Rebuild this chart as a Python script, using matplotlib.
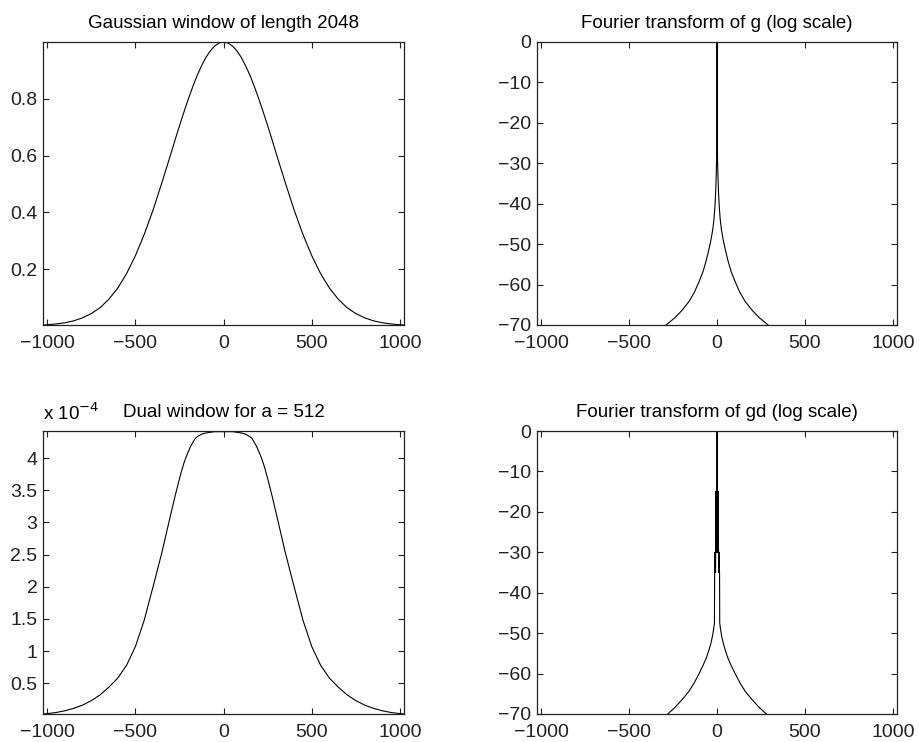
import numpy as np
import matplotlib
matplotlib.use("Agg")
import matplotlib.pyplot as plt

# values (right half; the curves are symmetric about 0)
g_x = [0, 25, 50, 75, 100, 125, 150, 175, 200, 225, 250, 275, 300, 350, 400,
       450, 500, 550, 600, 650, 700, 750, 800, 850, 900, 950, 1000, 1024]
g_val = [1.0, 0.9965, 0.986, 0.969, 0.946, 0.916, 0.882, 0.842, 0.799, 0.753,
         0.705, 0.655, 0.604, 0.504, 0.408, 0.322, 0.247, 0.184, 0.133,
         0.094, 0.064, 0.043, 0.028, 0.0175, 0.0107, 0.0064, 0.0037, 0.0028]

gd_x = [0, 50, 100, 125, 150, 162, 175, 187, 200, 212, 225, 237, 250, 275,
        300, 350, 400, 450, 500, 550, 600, 650, 700, 750, 800, 850, 900, 950,
        1000, 1024]
gd_val = [4.41, 4.41, 4.39, 4.37, 4.33, 4.30, 4.24, 4.18, 4.10, 4.02, 3.92,
          3.81, 3.68, 3.41, 3.12, 2.53, 2.00, 1.48, 1.07, 0.78, 0.58, 0.44,
          0.32, 0.23, 0.16, 0.11, 0.072, 0.045, 0.028, 0.022]  # x 1e-4

fg_k = [0, 1, 2, 3, 5, 8, 12, 18, 25, 35, 45, 60, 80, 100, 130, 160, 200,
        240, 290]
fg_db = [0, -22, -27, -30, -33, -37, -40.5, -44, -46.5, -49, -51, -53.8,
         -56.8, -59, -62, -64.2, -66.4, -68.2, -70]

# the dual window spectrum oscillates near the centre (dark band)
fgd_k = [0, 1, 2, 3, 4, 5, 6, 7, 8, 9, 10, 11, 12, 13, 14, 15,
         18, 25, 35, 45, 60, 80, 100, 130, 160, 200, 240, 280]
fgd_db = [0, -15, -30, -15, -30, -15, -30, -15, -30,
          -35, -30, -35, -30, -35, -35, -47.5,
          -48.5, -50.5, -52.5, -54, -56, -58, -59.8, -62.3, -64.4, -66.5,
          -68.4, -70]

xticks = [-1000, -500, 0, 500, 1000]
gd_ticks = [0.5, 1, 1.5, 2, 2.5, 3, 3.5, 4]


def mirror(x, y):
    x = np.asarray(x, float)
    y = np.asarray(y, float)
    return (np.concatenate([-x[:0:-1], x]), np.concatenate([y[:0:-1], y]))


plt.rcParams['font.family'] = ['Liberation Sans', 'DejaVu Sans']

fig = plt.figure(figsize=(9.19, 7.42), dpi=100)
W, H = 919, 742


def make_ax(l, t, r, b):
    return fig.add_axes([l / W, 1 - b / H, (r - l) / W, (b - t) / H])


ax1 = make_ax(43, 42, 404, 325)
ax2 = make_ax(537, 42, 897, 325)
ax3 = make_ax(43, 431, 404, 714)
ax4 = make_ax(537, 431, 897, 714)

TFS = 13.5

x, y = mirror(g_x, g_val)
ax1.plot(x, y, color='black', lw=0.8)
ax1.set_ylim(min(g_val), 1.0)
ax1.set_yticks([0.2, 0.4, 0.6, 0.8])
ax1.set_title('Gaussian window of length 2048', fontsize=TFS, pad=10)

x, y = mirror(fg_k, fg_db)
ax2.plot(x, y, color='black', lw=0.8)
ax2.set_ylim(-70, 0)
ax2.set_yticks(range(-70, 1, 10))
ax2.set_title('Fourier transform of g (log scale)', fontsize=TFS, pad=10)

x, y = mirror(gd_x, gd_val)
ax3.plot(x, y, color='black', lw=0.8)
ax3.set_ylim(min(gd_val), 4.42)
ax3.set_yticks(gd_ticks)
ax3.set_yticklabels([('%g' % t) for t in gd_ticks])
ax3.set_title('Dual window for a = 512', fontsize=TFS, pad=10)
ax3.text(0.0, 1.025, r'x 10$^{-4}$', transform=ax3.transAxes,
         ha='left', va='bottom', fontsize=TFS)

x, y = mirror(fgd_k, fgd_db)
ax4.plot(x, y, color='black', lw=0.8)
ax4.set_ylim(-70, 0)
ax4.set_yticks(range(-70, 1, 10))
ax4.set_title('Fourier transform of gd (log scale)', fontsize=TFS, pad=10)

for ax in (ax1, ax2, ax3, ax4):
    ax.set_xlim(-1024, 1023)
    ax.set_xticks(xticks)
    ax.tick_params(direction='in', top=True, right=True, length=4,
                   width=0.8, labelsize=14, colors='#222222')
    ax.tick_params(axis='y', pad=4)
    ax.tick_params(axis='x', pad=7)
    for s in ax.spines.values():
        s.set_linewidth(0.9)
        s.set_color('#222222')

fig.savefig('out.png', dpi=100)
